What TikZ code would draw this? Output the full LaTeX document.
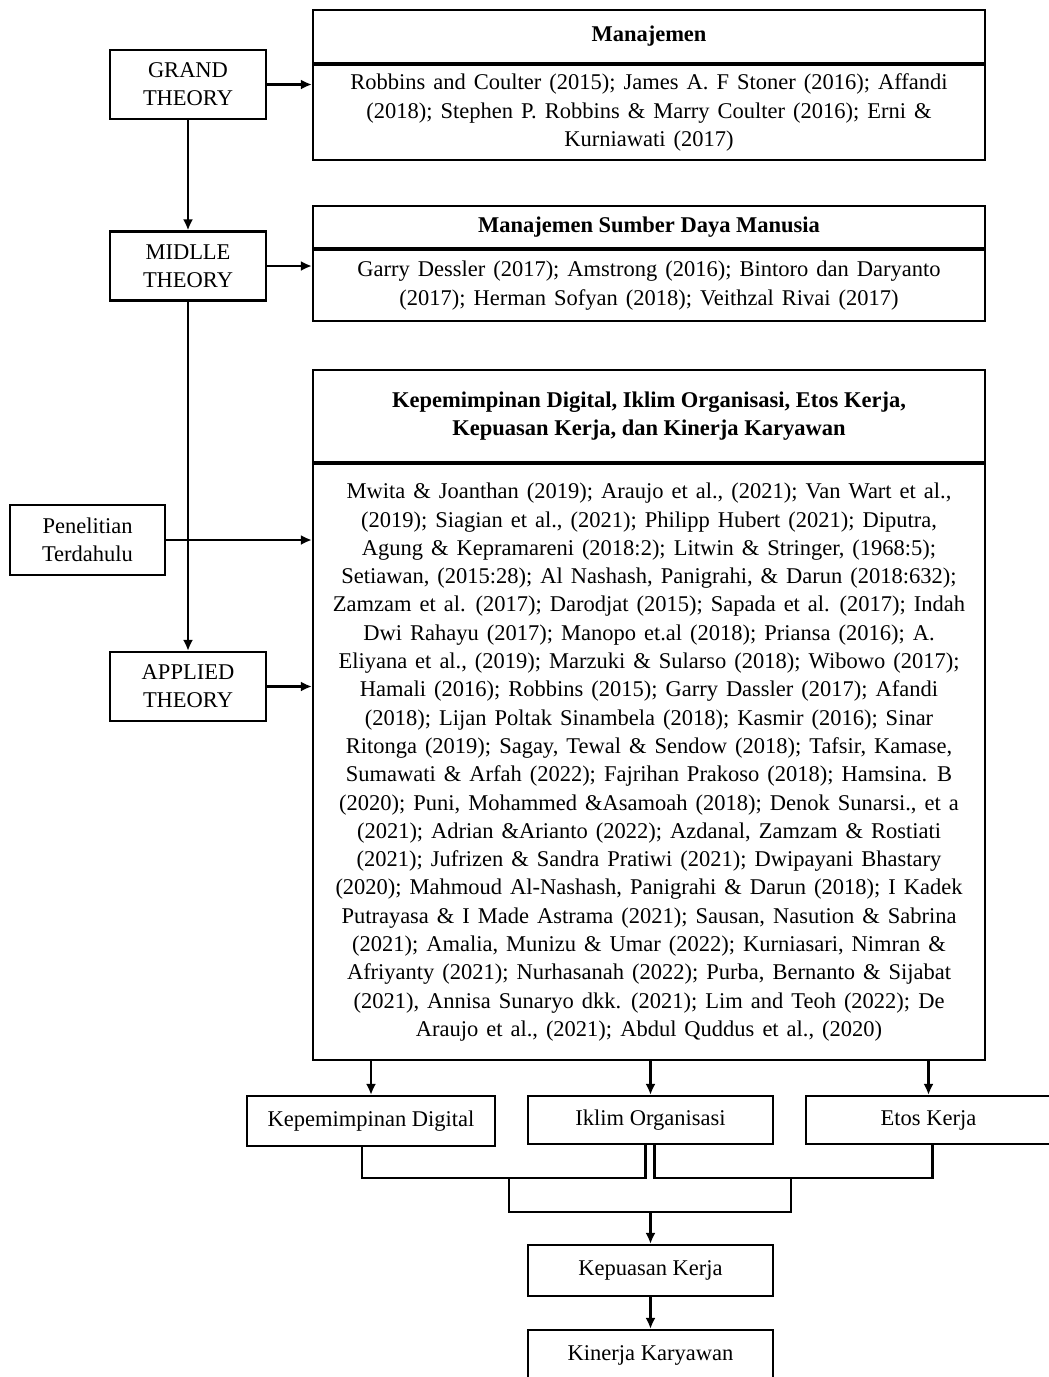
\documentclass[tikz,border=0pt]{standalone}
\usepackage{fontspec}
\setmainfont{Liberation Serif}
\usetikzlibrary{positioning,arrows.meta}

\newcommand\listfont{\fontsize{22.5pt}{28.3pt}\selectfont\spaceskip=8pt plus 2pt minus 1pt\relax}

\tikzset{
  basefont/.style={font=\fontsize{22.5pt}{28.3pt}\selectfont},
  theorybox/.style={draw, line width=2.2pt, basefont, align=center, inner sep=0pt,
    minimum width=156pt, minimum height=69pt},
  headbox/.style={draw, line width=2.2pt, align=center, inner sep=0pt,
    minimum width=672pt, font=\fontsize{22.5pt}{28.3pt}\selectfont\bfseries},
  listbox/.style={draw, line width=2.2pt, align=center, inner sep=0pt,
    minimum width=672pt, font=\listfont},
  varbox/.style={draw, line width=2.2pt, basefont, align=center, inner sep=0pt,
    minimum width=245pt, minimum height=48pt},
  arr/.style={line width=2.2pt, -{Latex[length=11pt,width=10pt]}},
  bracketline/.style={line width=2.2pt}
}

\begin{document}
\begin{tikzpicture}[x=1pt,y=-1pt]
  \path[fill=white,use as bounding box] (0,0) rectangle (1049,1377);

  % theory levels on the left
  \node[theorybox] (grand) at (188,84.5) {GRAND\\THEORY};
  \node[theorybox] (midlle) at (188,266) {MIDLLE\\THEORY};
  \node[theorybox] (applied) at (188,686.5) {APPLIED\\THEORY};
  \node[theorybox, minimum width=155pt, minimum height=70pt] (penelitian) at (87.5,540) {Penelitian\\Terdahulu};

  % Manajemen
  \node[headbox, minimum height=53pt] (mnjhead) at (649,36.5) {Manajemen};
  \node[listbox, minimum height=95pt, below=0pt of mnjhead] (mnjlist)
    {Robbins and Coulter (2015); James A. F Stoner (2016); Affandi\\
     (2018); Stephen P. Robbins \& Marry Coulter (2016); Erni \&\\
     Kurniawati (2017)};

  % Manajemen Sumber Daya Manusia
  \node[headbox, minimum height=42pt] (msdmhead) at (649,227) {Manajemen Sumber Daya Manusia};
  \node[listbox, minimum height=71pt, below=0pt of msdmhead] (msdmlist)
    {Garry Dessler (2017); Amstrong (2016); Bintoro dan Daryanto\\
     (2017); Herman Sofyan (2018); Veithzal Rivai (2017)};

  % variabel penelitian
  \node[headbox, minimum height=92pt] (varhead) at (649,416)
    {Kepemimpinan Digital, Iklim Organisasi, Etos Kerja,\\
     Kepuasan Kerja, dan Kinerja Karyawan};
  \node[listbox, minimum height=596pt, below=0pt of varhead] (varlist)
    {Mwita \& Joanthan (2019); Araujo et al., (2021); Van Wart et al.,\\
     (2019); Siagian et al., (2021); Philipp Hubert (2021); Diputra,\\
     Agung \& Kepramareni (2018:2); Litwin \& Stringer, (1968:5);\\
     Setiawan, (2015:28); Al Nashash, Panigrahi, \& Darun (2018:632);\\
     Zamzam et al. (2017); Darodjat (2015); Sapada et al. (2017); Indah\\
     Dwi Rahayu (2017); Manopo et.al (2018); Priansa (2016); A.\\
     Eliyana et al., (2019); Marzuki \& Sularso (2018); Wibowo (2017);\\
     Hamali (2016); Robbins (2015); Garry Dassler (2017); Afandi\\
     (2018); Lijan Poltak Sinambela (2018); Kasmir (2016); Sinar\\
     Ritonga (2019); Sagay, Tewal \& Sendow (2018); Tafsir, Kamase,\\
     Sumawati \& Arfah (2022); Fajrihan Prakoso (2018); Hamsina. B\\
     (2020); Puni, Mohammed \&Asamoah (2018); Denok Sunarsi., et a\\
     (2021); Adrian \&Arianto (2022); Azdanal, Zamzam \& Rostiati\\
     (2021); Jufrizen \& Sandra Pratiwi (2021); Dwipayani Bhastary\\
     (2020); Mahmoud Al-Nashash, Panigrahi \& Darun (2018); I Kadek\\
     Putrayasa \& I Made Astrama (2021); Sausan, Nasution \& Sabrina\\
     (2021); Amalia, Munizu \& Umar (2022); Kurniasari, Nimran \&\\
     Afriyanty (2021); Nurhasanah (2022); Purba, Bernanto \& Sijabat\\
     (2021), Annisa Sunaryo dkk. (2021); Lim and Teoh (2022); De\\
     Araujo et al., (2021); Abdul Quddus et al., (2020)};

  % variables
  \node[varbox, minimum width=248pt, minimum height=50pt] (kd) at (371,1121) {Kepemimpinan Digital};
  \node[varbox] (io) at (650.5,1120) {Iklim Organisasi};
  \node[varbox] (ek) at (928.5,1120) {Etos Kerja};
  \node[varbox, minimum height=51pt] (kk) at (650.5,1270.5) {Kepuasan Kerja};
  \node[varbox, minimum height=50pt] (kin) at (650.5,1355) {Kinerja Karyawan};

  \coordinate (jl) at (509,1178);
  \coordinate (jr) at (791,1178);
  \coordinate (jm) at (650.5,1212);

  % connectors
  \draw[arr] (grand.east) -- (grand.east -| mnjlist.west);
  \draw[arr] (midlle.east) -- (midlle.east -| msdmlist.west);
  \draw[arr] (penelitian.east) -- (penelitian.east -| varlist.west);
  \draw[arr] (applied.east) -- (applied.east -| varlist.west);
  \draw[arr] (grand.south) -- (midlle.north);
  \draw[arr] (midlle.south) -- (applied.north);
  \draw[arr] (varlist.south -| kd.north) -- (kd.north);
  \draw[arr] (varlist.south -| io.north) -- (io.north);
  \draw[arr] (varlist.south -| ek.north) -- (ek.north);
  \draw[bracketline] ([xshift=-9pt]kd.south) |- (jl) -| ([xshift=-5pt]io.south);
  \draw[bracketline] ([xshift=4pt]io.south) |- (jr) -| ([xshift=4pt]ek.south);
  \draw[bracketline] (jl) |- (jm) -| (jr);
  \draw[arr] (jm) -- (kk.north);
  \draw[arr] (kk.south) -- (kin.north);
\end{tikzpicture}
\end{document}
